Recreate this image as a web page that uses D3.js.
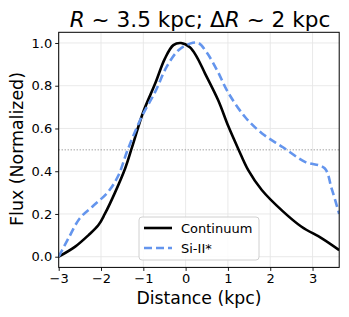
<!DOCTYPE html>
<html><head><meta charset="utf-8">
<script src="https://cdn.jsdelivr.net/npm/d3@7"></script>
<style>body{margin:0;background:#fff}svg{display:block;font-family:"DejaVu Sans",sans-serif}</style>
</head><body><svg id="c" width="349" height="317"></svg>
<script>
const contX = [-3, -2.61, -2.30, -2.06, -1.91, -1.67, -1.43, -1.27, -1.0, -0.72, -0.49, -0.29, -0.11, 0.10, 0.25, 0.46, 0.77, 1.01, 1.25, 1.48, 1.80, 2.30, 2.74, 3.22, 3.63];
const contY = [0, 0.047, 0.10, 0.148, 0.20, 0.30, 0.413, 0.51, 0.678, 0.81, 0.927, 0.99, 1.0, 0.98, 0.94, 0.857, 0.732, 0.61, 0.502, 0.405, 0.312, 0.212, 0.14, 0.086, 0.031];
const siX = [-3, -2.77, -2.50, -2.20, -1.83, -1.59, -1.37, -1.04, -0.72, -0.45, -0.17, 0.10, 0.30, 0.50, 0.75, 1.00, 1.40, 1.80, 2.30, 2.82, 3.28, 3.45, 3.63];
const siY = [0, 0.086, 0.18, 0.235, 0.304, 0.38, 0.50, 0.654, 0.771, 0.888, 0.966, 0.997, 1.0, 0.955, 0.87, 0.77, 0.655, 0.578, 0.512, 0.444, 0.415, 0.32, 0.20];
const xTicks = [-3, -2, -1, 0, 1, 2, 3];
const yTicks = [0, 0.2, 0.4, 0.6, 0.8, 1.0];
const seriesNames = ["Continuum", "Si-II*"];
const halfLevel = 0.5;

const svg = d3.select("#c");
const L = 58.7, R = 339.2, T = 32.3, B = 267.4;
const x = d3.scaleLinear().domain([-3, 3.63]).range([L, R]);
const y = d3.scaleLinear().domain([-0.05, 1.05]).range([B, T]);
const fmt = d => (d < 0 ? "\u2212" + Math.abs(d) : d.toString());
const fmtY = d => d.toFixed(1);

// grid
const g = svg.append("g");
g.selectAll(".gx").data(xTicks).join("line")
  .attr("x1", d => x(d)).attr("x2", d => x(d)).attr("y1", T).attr("y2", B)
  .attr("stroke", "#e6e6e6").attr("stroke-width", 0.9);
g.selectAll(".gy").data(yTicks).join("line")
  .attr("y1", d => y(d)).attr("y2", d => y(d)).attr("x1", L).attr("x2", R)
  .attr("stroke", "#e6e6e6").attr("stroke-width", 0.9);

// dotted half line
svg.append("line").attr("x1", L).attr("x2", R).attr("y1", y(halfLevel)).attr("y2", y(halfLevel))
  .attr("stroke", "#777").attr("stroke-width", 1).attr("stroke-dasharray", "1,2");

svg.append("clipPath").attr("id", "cp").append("rect")
  .attr("x", L).attr("y", T).attr("width", R - L).attr("height", B - T);

const line = d3.line().x(d => x(d[0])).y(d => y(d[1])).curve(d3.curveCatmullRom.alpha(0.5));
const contData = contX.map((v, i) => [v, contY[i]]);
const siData = siX.map((v, i) => [v, siY[i]]);
const pl = svg.append("g").attr("clip-path", "url(#cp)");
pl.append("path").datum(contData).attr("d", line).attr("fill", "none")
  .attr("stroke", "#000").attr("stroke-width", 2.6);
pl.append("path").datum(siData).attr("d", line).attr("fill", "none")
  .attr("stroke", "#6495ED").attr("stroke-width", 2.6).attr("stroke-dasharray", "8,4");

// axes
const ax = svg.append("g").attr("transform", `translate(0,${B})`)
  .call(d3.axisBottom(x).tickValues(xTicks).tickFormat(fmt).tickSize(3.5).tickPadding(3));
const ay = svg.append("g").attr("transform", `translate(${L},0)`)
  .call(d3.axisLeft(y).tickValues(yTicks).tickFormat(fmtY).tickSize(3.5).tickPadding(3));
[ax, ay].forEach(a => {
  a.selectAll("text").attr("font-size", 13).attr("fill", "#000").attr("font-family", "DejaVu Sans");
  a.select(".domain").remove();
  a.selectAll("line").attr("stroke", "#000").attr("stroke-width", 0.9);
});
svg.append("rect").attr("x", L).attr("y", T).attr("width", R - L).attr("height", B - T)
  .attr("fill", "none").attr("stroke", "#000").attr("stroke-width", 1);

// labels
svg.append("text").attr("x", (L + R) / 2).attr("y", 304).attr("text-anchor", "middle")
  .attr("font-size", 17.3).text("Distance (kpc)");
svg.append("text").attr("transform", `translate(23,149) rotate(-90)`).attr("text-anchor", "middle")
  .attr("font-size", 17.4).text("Flux (Normalized)");
const title = svg.append("text").attr("x", 200).attr("y", 26.5).attr("text-anchor", "middle").attr("font-size", 21.6);
title.append("tspan").attr("font-style", "italic").text("R");
title.append("tspan").text(" ~ 3.5 kpc; \u0394");
title.append("tspan").attr("font-style", "italic").text("R");
title.append("tspan").text(" ~ 2 kpc");

// legend
const lg = svg.append("g");
lg.append("rect").attr("x", 139).attr("y", 217).attr("width", 120).attr("height", 43).attr("rx", 3)
  .attr("fill", "#fff").attr("fill-opacity", 0.85).attr("stroke", "#d0d0d0").attr("stroke-width", 1);
lg.append("line").attr("x1", 144).attr("x2", 172).attr("y1", 228).attr("y2", 228).attr("stroke", "#000").attr("stroke-width", 2.6);
lg.append("line").attr("x1", 144).attr("x2", 172).attr("y1", 248).attr("y2", 248).attr("stroke", "#6495ED").attr("stroke-width", 2.6).attr("stroke-dasharray", "8,4");
lg.selectAll(".lt").data(seriesNames).join("text").attr("x", 181).attr("y", (d, i) => 233 + i * 20)
  .attr("font-size", 13).text(d => d);
</script></body></html>
